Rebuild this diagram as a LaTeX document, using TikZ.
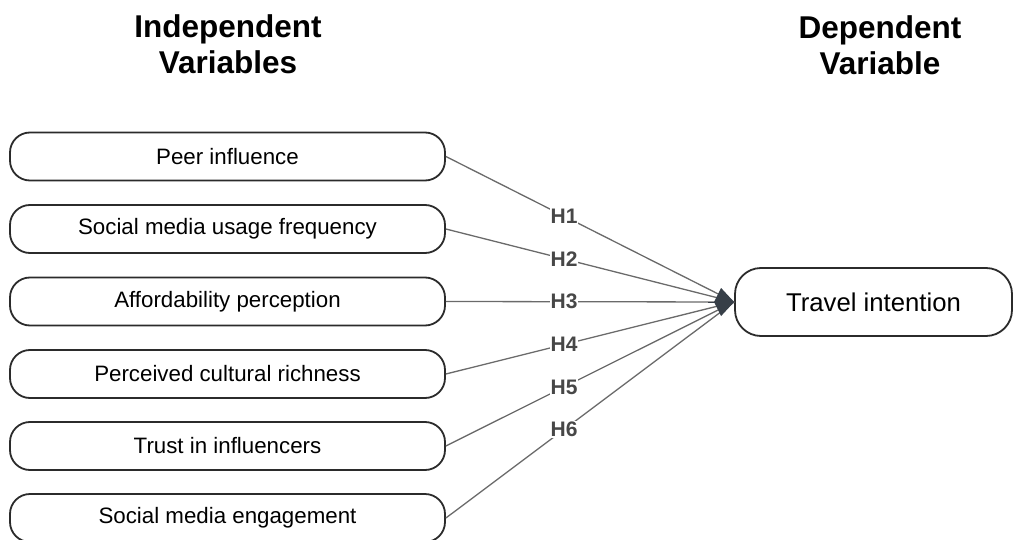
\documentclass[tikz,border=0pt]{standalone}
\usepackage{fontspec}
\setmainfont{Liberation Sans}
\usetikzlibrary{arrows.meta}
\definecolor{linegray}{HTML}{6A6A6A}
\definecolor{tipgray}{HTML}{373F48}
\definecolor{edgegray}{HTML}{2B2B2B}
\begin{document}
\begin{tikzpicture}[x=1pt,y=-1pt,font=\fontsize{22.3}{25}\selectfont,
 ivbox/.style={draw=edgegray,line width=1.8pt,rounded corners=20pt,minimum width=435pt,minimum height=48pt,inner sep=0pt},
 dvbox/.style={draw=edgegray,line width=1.8pt,rounded corners=26pt,minimum width=277pt,minimum height=68pt,inner sep=0pt,font=\fontsize{25.7}{29}\selectfont},
 hlab/.style={fill=white,inner sep=1pt,text=black!72,font=\bfseries\fontsize{21}{22}\selectfont},
 title/.style={align=center,font=\bfseries\fontsize{31.5}{36}\selectfont}]
\useasboundingbox (0,0) rectangle (1014,540);
\node[title] (ivtitle) at (228,44) {Independent\\Variables};
\node[title] (dvtitle) at (880,45) {Dependent\\Variable};
\node[dvbox] (tv) at (873.5,302) {Travel intention};
\foreach \y/\lab/\h [count=\i] in {156.5/Peer influence/H1,229/Social media usage frequency/H2,301.5/Affordability perception/H3,374/Perceived cultural richness/H4,446/Trust in influencers/H5,518/Social media engagement/H6}{
 \node[ivbox] (iv\i) at (227.5,\y) {\lab};
 \draw[linegray,line width=1.3pt] (iv\i.east) -- (tv.west) node[hlab,pos=.41] {\h};
}
\draw[tipgray,line width=1pt,-{Kite[length=20pt,width=28pt,inset=7pt]}] ([xshift=-26pt]tv.west) -- (tv.west);
\end{tikzpicture}
\end{document}
